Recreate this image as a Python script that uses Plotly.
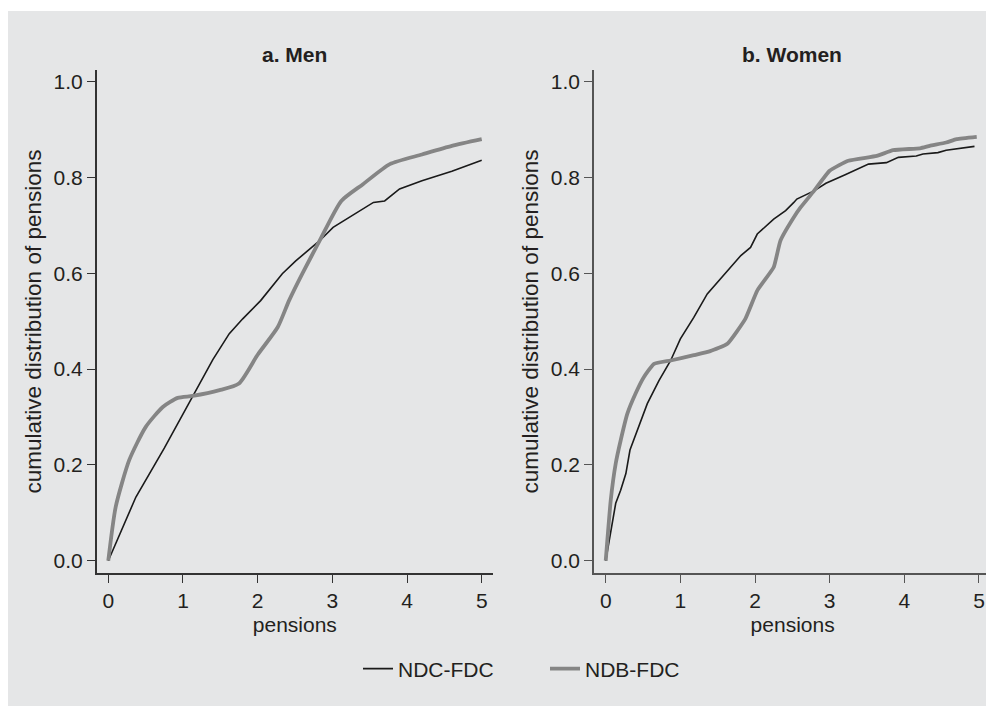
import plotly.graph_objects as go

# ---- data ----
men_ndc_x = [0.0, 0.37, 0.75, 1.13, 1.40, 1.62, 1.80, 2.04, 2.33, 2.51, 2.83, 3.01, 3.30, 3.55, 3.70, 3.90, 4.20, 4.60, 5.0]
men_ndc_y = [0.0, 0.133, 0.235, 0.345, 0.42, 0.474, 0.505, 0.543, 0.599, 0.626, 0.668, 0.696, 0.724, 0.748, 0.751, 0.776, 0.793, 0.813, 0.836]

men_ndb_x = [0.0, 0.10, 0.28, 0.50, 0.73, 0.93, 1.13, 1.49, 1.75, 2.00, 2.27, 2.42, 2.60, 2.83, 3.12, 3.41, 3.77, 4.20, 4.60, 5.0]
men_ndb_y = [0.0, 0.113, 0.21, 0.279, 0.321, 0.34, 0.344, 0.356, 0.37, 0.43, 0.488, 0.543, 0.60, 0.668, 0.751, 0.786, 0.828, 0.848, 0.866, 0.88]

women_ndc_x = [0.0, 0.067, 0.134, 0.20, 0.27, 0.325, 0.42, 0.557, 0.713, 0.87, 1.0, 1.18, 1.36, 1.67, 1.81, 1.94, 2.03, 2.25, 2.41, 2.52, 2.56, 2.79, 2.95, 3.20, 3.52, 3.76, 3.92, 4.16, 4.25, 4.45, 4.56, 4.94]
women_ndc_y = [0.0, 0.064, 0.12, 0.147, 0.182, 0.231, 0.272, 0.328, 0.376, 0.418, 0.463, 0.508, 0.557, 0.6125, 0.637, 0.654, 0.682, 0.713, 0.731, 0.748, 0.755, 0.772, 0.788, 0.805, 0.828, 0.831, 0.842, 0.845, 0.849, 0.852, 0.857, 0.865]

women_ndb_x = [0.0, 0.067, 0.134, 0.20, 0.29, 0.40, 0.51, 0.647, 0.87, 1.18, 1.40, 1.63, 1.87, 2.03, 2.25, 2.34, 2.52, 2.61, 2.79, 3.0, 3.25, 3.63, 3.85, 4.21, 4.34, 4.56, 4.70, 4.97]
women_ndb_y = [0.0, 0.126, 0.203, 0.251, 0.307, 0.349, 0.383, 0.411, 0.418, 0.429, 0.4375, 0.453, 0.505, 0.564, 0.6125, 0.668, 0.717, 0.7375, 0.772, 0.814, 0.835, 0.845, 0.857, 0.861, 0.866, 0.873, 0.88, 0.885]

x_ticks = [0, 1, 2, 3, 4, 5]
y_ticks = [0.0, 0.2, 0.4, 0.6, 0.8, 1.0]
y_tick_labels = ["0.0", "0.2", "0.4", "0.6", "0.8", "1.0"]
panel_titles = ["a. Men", "b. Women"]
series_names = ["NDC-FDC", "NDB-FDC"]

# ---- figure (page body has an 8px margin, so figure px = screen px - 8) ----
OFF = 8
W, H = 994 - OFF, 706 - OFF
BG = "#e5e6e7"
TXT = "#231f20"
FONT = "Liberation Sans, Arial, sans-serif"
FS = 21

fig = go.Figure()

black = dict(color="#1a1a1a", width=1.6)
grey = dict(color="#858585", width=3.8)

fig.add_trace(go.Scatter(x=men_ndc_x, y=men_ndc_y, mode="lines", line=black,
                         name=series_names[0], xaxis="x", yaxis="y"))
fig.add_trace(go.Scatter(x=men_ndb_x, y=men_ndb_y, mode="lines", line=dict(grey, shape="spline", smoothing=0.6),
                         name=series_names[1], xaxis="x", yaxis="y"))
fig.add_trace(go.Scatter(x=women_ndc_x, y=women_ndc_y, mode="lines", line=black,
                         name=series_names[0], xaxis="x2", yaxis="y2", showlegend=False))
fig.add_trace(go.Scatter(x=women_ndb_x, y=women_ndb_y, mode="lines", line=dict(grey, shape="spline", smoothing=0.4),
                         name=series_names[1], xaxis="x2", yaxis="y2", showlegend=False))


def px_x(p):
    return (p - OFF) / W


def px_y(p):
    return 1 - (p - OFF) / H


ydom = [px_y(573), px_y(70)]

axis_common = dict(
    showgrid=False, zeroline=False, showline=True, linewidth=1.5,
    ticks="outside", ticklen=8, tickwidth=1.3,
    tickfont=dict(size=FS, color=TXT, family=FONT),
    mirror=False,
)

xa = dict(axis_common, tickvals=x_ticks, ticktext=[str(v) for v in x_ticks],
          title=dict(text="pensions", font=dict(size=FS, color=TXT, family=FONT), standoff=6))
ya = dict(axis_common, tickvals=y_ticks, ticktext=y_tick_labels, range=[-0.0256, 1.0244],
          title=dict(text="cumulative distribution of pensions", font=dict(size=22.5, color=TXT, family=FONT),
                     standoff=6))

fig.update_layout(
    width=W, height=H,
    margin=dict(l=0, r=0, t=0, b=0),
    paper_bgcolor="white",
    plot_bgcolor="white",
    font=dict(family=FONT, color=TXT, size=FS),
    xaxis=dict(xa, domain=[px_x(96.7), px_x(493)], range=[-0.155, 5.151], anchor="y",
               linecolor="#333333", tickcolor="#333333"),
    yaxis=dict(ya, domain=ydom, anchor="x", linecolor="#333333", tickcolor="#333333"),
    xaxis2=dict(xa, domain=[px_x(594), px_x(991.3)], range=[-0.157, 5.165], anchor="y2",
                linecolor="#555555", tickcolor="#555555"),
    yaxis2=dict(ya, domain=ydom, anchor="x2", linecolor="#555555", tickcolor="#555555"),
    showlegend=True,
    legend=dict(orientation="h", x=px_x(358), xanchor="left", y=px_y(669), yanchor="middle",
                bgcolor="rgba(0,0,0,0)", font=dict(size=FS, color=TXT, family=FONT),
                entrywidth=142, entrywidthmode="pixels", traceorder="normal"),
    shapes=[dict(type="rect", xref="paper", yref="paper", x0=0, x1=1, y0=0, y1=px_y(11),
                 fillcolor=BG, line=dict(width=0), layer="below")],
    annotations=[
        dict(text="<b>" + panel_titles[0] + "</b>", xref="paper", yref="paper", x=px_x(294), y=px_y(55),
             xanchor="center", yanchor="middle", showarrow=False, font=dict(size=FS, color=TXT, family=FONT)),
        dict(text="<b>" + panel_titles[1] + "</b>", xref="paper", yref="paper", x=px_x(792), y=px_y(55),
             xanchor="center", yanchor="middle", showarrow=False, font=dict(size=FS, color=TXT, family=FONT)),
    ],
)

fig.write_html("out.html")
